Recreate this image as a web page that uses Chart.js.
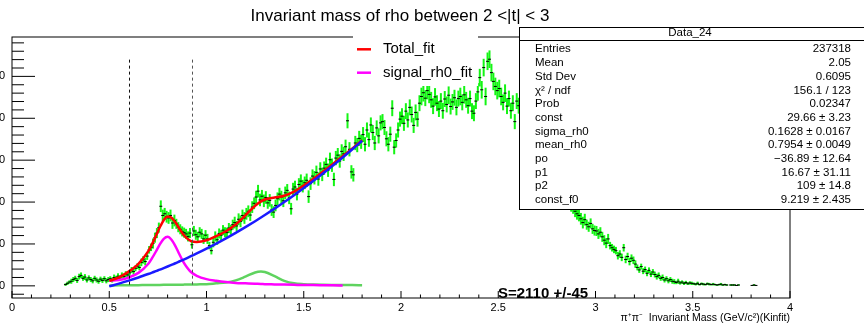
<!DOCTYPE html>
<html>
<head>
<meta charset="utf-8">
<title>Invariant mass of rho between 2 &lt;|t| &lt; 3</title>
<script src="https://cdn.jsdelivr.net/npm/chart.js@4.4.1/dist/chart.umd.min.js"></script>
<style>
  html, body { margin: 0; padding: 0; background: #fff; }
  #wrap { position: relative; width: 864px; height: 327px; overflow: hidden; }
  #chart { position: absolute; left: -40px; top: 0; }
</style>
</head>
<body>
<div id="wrap"><canvas id="chart" width="904" height="327"></canvas></div>
<script>
// pi+pi- mass histogram, 10 MeV bins, first bin centre at 0.275
const firstBin = 0.275
const binWidth = 0.01

const counts = [
  3, 6, 9,
  11, 15, 18, 13, 22, 25, 18, 21, 14, 19,            // 0.3
  15, 12, 18, 14, 11, 16, 13, 17, 12, 15,            // 0.4
  17, 14, 20, 18, 23, 19, 25, 22, 28, 26,            // 0.5
  31, 38, 34, 42, 47, 44, 56, 62, 58, 71,            // 0.6
  86, 92, 101, 115, 126, 139, 190, 168, 172, 165,    // 0.7
  162, 168, 150, 156, 148, 140, 135, 130, 127, 124,  // 0.8
  118, 126, 98, 131, 122, 117, 128, 124, 112, 121,   // 0.9
  112, 96, 84, 104, 118, 110, 125, 121, 133, 128,    // 1.0
  127, 138, 134, 146, 151, 143, 159, 154, 168, 162,  // 1.1
  172, 178, 169, 188, 197, 212, 226, 205, 214, 203,  // 1.2
  211, 198, 204, 181, 176, 192, 208, 219, 212, 203,  // 1.3
  222, 228, 210, 184, 231, 236, 219, 242, 250, 238,  // 1.4
  246, 252, 213, 244, 262, 258, 271, 255, 279, 266,  // 1.5
  281, 290, 276, 301, 288, 254, 305, 312, 298, 321,  // 1.6
  315, 332, 394, 326, 272, 265, 341, 336, 352, 344,  // 1.7
  361, 338, 372, 349, 384, 366, 341, 377, 358, 389,  // 1.8
  392, 378, 351, 338, 362, 424, 331, 347, 372, 398,  // 1.9
  405, 388, 417, 396, 426, 409, 383, 414, 398, 436,  // 2.0
  452, 461, 448, 466, 457, 444, 429, 451, 436, 422,  // 2.1
  441, 418, 446, 433, 455, 428, 439, 449, 426, 447,  // 2.2
  452, 438, 456, 444, 430, 447, 417, 412, 441, 463,  // 2.3
  497, 468, 521, 452, 536, 541, 509, 488, 476, 466,  // 2.4
  471, 452, 438, 460, 429, 447, 418, 436, 392, 441,  // 2.5
  430, 422, 415, 409, 398, 392, 380, 371, 366, 352,  // 2.6
  343, 334, 322, 316, 303, 297, 284, 276, 265, 257,  // 2.7
  248, 239, 231, 222, 216, 205, 198, 191, 186, 178,  // 2.8
  172, 168, 160, 151, 158, 146, 141, 149, 136, 132,  // 2.9
  131, 124, 128, 117, 109, 102, 112, 96, 91, 87,     // 3.0
  84, 72, 76, 68, 91, 63, 70, 58, 66, 61,            // 3.1
  52, 44, 38, 46, 35, 39, 30, 37, 28, 33,            // 3.2
  27, 22, 25, 18, 20, 14, 17, 12, 15, 11,            // 3.3
  10, 8, 11, 7, 9, 6, 8, 5, 7, 6,                    // 3.4
  5, 4, 6, 3, 5, 4, 3, 5, 4, 3,                      // 3.5
  4, 3, 2, 3, 4, 2, 3, 2, null, 2,                   // 3.6
  2, 2, 1, 2, null, null, null, null, null, null,    // 3.7
  1, 2, 1                                            // 3.8
]

const errors = [
  3, 4, 4,
  6, 6, 6, 6, 7, 7, 6, 7, 6, 6,
  6, 6, 6, 6, 6, 6, 6, 6, 6, 6,
  6, 6, 7, 6, 7, 6, 7, 7, 7, 7,
  7, 7, 7, 7, 7, 7, 9, 9, 9, 9,
  9, 9, 12, 12, 12, 12, 14, 14, 14, 14,
  14, 14, 14, 14, 12, 12, 12, 12, 12, 12,
  12, 12, 9, 12, 12, 12, 12, 12, 12, 12,
  12, 9, 9, 12, 12, 12, 12, 12, 12, 12,
  12, 12, 12, 12, 14, 12, 14, 14, 14, 14,
  14, 14, 14, 14, 14, 15, 15, 15, 15, 15,
  15, 14, 15, 14, 14, 14, 15, 15, 15, 15,
  15, 15, 15, 14, 15, 15, 15, 15, 16, 15,
  15, 16, 15, 15, 16, 16, 16, 16, 16, 16,
  16, 16, 16, 17, 16, 16, 17, 17, 16, 17,
  17, 17, 18, 17, 16, 16, 17, 17, 18, 17,
  18, 17, 18, 17, 18, 18, 17, 18, 18, 18,
  18, 18, 18, 17, 18, 19, 17, 17, 18, 18,
  19, 18, 19, 18, 19, 19, 18, 19, 18, 19,
  21, 21, 19, 21, 21, 19, 19, 21, 19, 19,
  19, 19, 19, 19, 21, 19, 19, 19, 19, 19,
  21, 19, 21, 19, 19, 19, 19, 19, 19, 21,
  21, 21, 21, 21, 21, 21, 21, 21, 21, 21,
  21, 21, 19, 21, 19, 19, 19, 19, 18, 19,
  19, 19, 19, 19, 18, 18, 18, 18, 18, 18,
  17, 17, 17, 17, 17, 16, 16, 16, 16, 16,
  15, 15, 15, 15, 15, 15, 14, 14, 14, 14,
  14, 14, 14, 14, 14, 12, 12, 12, 12, 12,
  12, 12, 12, 12, 12, 12, 12, 9, 9, 9,
  9, 9, 9, 9, 9, 9, 9, 9, 9, 9,
  9, 7, 7, 7, 7, 7, 7, 7, 7, 7,
  7, 7, 7, 6, 7, 6, 6, 6, 6, 6,
  6, 4, 6, 4, 4, 4, 4, 3, 4, 4,
  3, 3, 4, 2, 3, 3, 2, 3, 3, 2,
  3, 2, 2, 2, 3, 2, 2, 2, null, 2,
  2, 2, 1, 2, null, null, null, null, null, null,
  1, 2, 1
]

// fit curves sampled over the fit range 0.5 - 1.8
const fitX = [0.50, 0.55, 0.60, 0.65, 0.70, 0.72, 0.74, 0.76, 0.78, 0.80, 0.82, 0.84, 0.86, 0.88, 0.90, 0.92, 0.95,
  1.00, 1.05, 1.10, 1.15, 1.20, 1.25, 1.28, 1.30, 1.35, 1.40, 1.45, 1.50, 1.55, 1.60, 1.65, 1.70, 1.75, 1.80]
const totalFit = [11.8, 20.5, 33.9, 52.7, 82.2, 99.6, 119.4, 140.0, 156.8, 165.7, 162.7, 151.7, 136.9, 123.1, 113.4, 106.9, 104.8,
  108.8, 118.8, 130.3, 146.4, 168.1, 191.3, 201.5, 206.0, 210.8, 215.1, 225.0, 239.4, 255.6, 272.8, 290.8, 309.5, 327.9, 347.8]
const signalFit = [12, 14, 20, 31, 52, 66, 82, 99, 112, 117, 110, 95, 76, 58, 44, 33, 24,
  16, 12, 9, 7, 6, 5, 4.5, 4, 3.5, 3, 2.5, 2, 1.8, 1.5, 1.2, 1, null, null]
const bkgFit = [-1.2, 5.3, 12.4, 20.0, 28.2, 31.6, 35.2, 38.7, 42.4, 46.2, 50.1, 54.0, 58.1, 62.2, 66.4, 70.7, 77.3,
  88.8, 100.8, 113.3, 126.4, 140.1, 154.3, 163.0, 169.0, 184.3, 200.1, 216.5, 233.4, 250.8, 268.8, 287.4, 306.5, 326.1, 346.3]
const f0Fit = [1, 1.2, 1.5, 1.7, 2, 2, 2.2, 2.3, 2.4, 2.5, 2.6, 2.7, 2.8, 2.9, 3, 3.2, 3.5,
  4, 6, 8, 13, 22, 32, 34, 33, 23, 12, 6, 4, 3, 2.5, 2.2, 2, 1.8, 1.5]

const xTicks = [0, 0.5, 1, 1.5, 2, 2.5, 3, 3.5, 4]
const yTicks = [0, 100, 200, 300, 400, 500]
const xMinorStep = 0.1
const yMinorStep = 20

// rho mass window
const cutLines = [0.6, 0.923]
const cutTop = 540

const legendItems = [['Total_fit', '#ff0000'], ['signal_rh0_fit', '#ff00ff']]
const statsRows = [
  ['Entries', '237318'],
  ['Mean', '2.05'],
  ['Std Dev', '0.6095'],
  ['\u03c7\u00b2 / ndf', '156.1 / 123'],
  ['Prob', '0.02347'],
  ['const', '29.66 \u00b1 3.23'],
  ['sigma_rh0', '0.1628 \u00b1 0.0167'],
  ['mean_rh0', '0.7954 \u00b1 0.0049'],
  ['po', '\u221236.89 \u00b1 12.64'],
  ['p1', '16.67 \u00b1 31.11'],
  ['p2', '109 \u00b1 14.8'],
  ['const_f0', '9.219 \u00b1 2.435']
]

const SHIFT = 40  // canvas hangs off the left edge, y labels get cut like in the pad
const FONT = 'Liberation Sans, Arial, Helvetica, sans-serif'

const ctx = document.getElementById('chart').getContext('2d')

const errorBars = {
  id: 'errorBars',
  beforeDatasetsDraw(chart) {
    const c = chart.ctx, a = chart.chartArea, xs = chart.scales.x, ys = chart.scales.y
    c.save()
    c.beginPath()
    c.rect(a.left, a.top, a.right - a.left, a.bottom - a.top)
    c.clip()
    c.strokeStyle = '#14f514'
    c.lineWidth = 2
    counts.forEach((n, i) => {
      if (n === null) return
      const px = xs.getPixelForValue(firstBin + i * binWidth)
      c.beginPath()
      c.moveTo(px, ys.getPixelForValue(n - errors[i]))
      c.lineTo(px, ys.getPixelForValue(n + errors[i]))
      c.stroke()
    })
    c.restore()
  }
}

const decorations = {
  id: 'decorations',
  afterDatasetsDraw(chart) {
    const c = chart.ctx, a = chart.chartArea, xs = chart.scales.x, ys = chart.scales.y
    c.save()

    // dashed lines for the mass window
    c.lineWidth = 1
    c.setLineDash([3, 3])
    cutLines.forEach((v, i) => {
      const px = Math.round(xs.getPixelForValue(v)) + 0.5
      c.strokeStyle = i === 0 ? '#111' : '#555'
      c.beginPath()
      c.moveTo(px, ys.getPixelForValue(cutTop))
      c.lineTo(px, ys.getPixelForValue(0))
      c.stroke()
    })
    c.setLineDash([])

    // frame
    c.strokeStyle = '#000'
    c.strokeRect(a.left, a.top, a.right - a.left, a.bottom - a.top)

    // ROOT style ticks, drawn inside the frame
    const nx = Math.round((xs.max - xs.min) / xMinorStep)
    for (let k = 0; k <= nx; k++) {
      const v = xs.min + k * xMinorStep
      const major = xTicks.some(t => Math.abs(t - v) < 1e-6)
      const px = xs.getPixelForValue(v)
      c.beginPath()
      c.moveTo(px, a.bottom)
      c.lineTo(px, a.bottom - (major ? 7 : 3.5))
      c.stroke()
    }
    for (let k = Math.ceil(ys.min / yMinorStep); k * yMinorStep <= ys.max; k++) {
      const v = k * yMinorStep
      const major = yTicks.includes(v)
      const py = ys.getPixelForValue(v)
      c.beginPath()
      c.moveTo(a.left, py)
      c.lineTo(a.left + (major ? 23 : 12), py)
      c.stroke()
    }
    c.restore()
  },
  afterDraw(chart) {
    const c = chart.ctx
    c.save()
    c.translate(SHIFT, 0)
    c.fillStyle = '#000'
    c.textBaseline = 'alphabetic'

    // title
    c.font = '17px ' + FONT
    c.textAlign = 'center'
    c.fillText('Invariant mass of rho between 2 <|t| < 3', 400, 21)

    // axis title
    c.font = '10.5px ' + FONT
    c.textAlign = 'right'
    c.fillText('\u03c0\u207a\u03c0\u207b  Invariant Mass (GeV/c\u00b2)(Kinfit)', 790, 320.5)

    // signal yield
    c.font = 'bold 15px ' + FONT
    c.textAlign = 'left'
    c.fillText('S=2110 +/-45', 498, 298)

    // legend
    c.fillStyle = '#fff'
    c.fillRect(353, 30, 125, 56)
    c.font = '15px ' + FONT
    legendItems.forEach(([label, color], i) => {
      const ly = 49.3 + i * 23.4
      c.strokeStyle = color
      c.lineWidth = 2.5
      c.beginPath()
      c.moveTo(357, ly)
      c.lineTo(371, ly)
      c.stroke()
      c.fillStyle = '#000'
      c.fillText(label, 383, ly + 4)
    })

    // stats box
    const bx = 519.5, by = 27.5, bw = 360, bh = 182
    c.fillStyle = '#fff'
    c.fillRect(bx, by, bw, bh)
    c.strokeStyle = '#000'
    c.lineWidth = 1
    c.strokeRect(bx, by, bw, bh)
    c.beginPath()
    c.moveTo(bx, 40.5)
    c.lineTo(bx + bw, 40.5)
    c.stroke()
    c.fillStyle = '#000'
    c.font = '11.5px ' + FONT
    c.textAlign = 'center'
    c.fillText('Data_24', 690, 36.4)
    statsRows.forEach(([name, val], i) => {
      const ty = 52.4 + i * 13.7
      c.textAlign = 'left'
      c.fillText(name, 535, ty)
      c.textAlign = 'right'
      c.fillText(val, 851, ty)
    })
    c.restore()
  }
}

const curve = (ys, color, order) => ({
  data: fitX.map((v, i) => ({ x: v, y: ys[i] })),
  showLine: true,
  borderColor: color,
  borderWidth: 2.5,
  pointRadius: 0,
  fill: false,
  spanGaps: false,
  cubicInterpolationMode: 'monotone',
  order: order
})

const config = {
  type: 'scatter',
  data: {
    datasets: [
      {
        label: 'Data_24',
        data: counts.map((n, i) => ({ x: firstBin + i * binWidth, y: n })),
        pointStyle: 'line',
        pointRadius: 1.5,
        borderColor: '#000',
        backgroundColor: '#000',
        borderWidth: 1,
        order: 5
      },
      curve(f0Fit, '#5fd35f', 4),
      curve(signalFit, '#ff00ff', 3),
      curve(totalFit, '#ff0000', 2),
      curve(bkgFit, '#1a1aff', 1)
    ]
  },
  options: {
    responsive: false,
    animation: false,
    devicePixelRatio: 1,
    layout: { padding: { left: 0, right: 74, top: 37, bottom: 0 } },
    plugins: {
      legend: { display: false },
      tooltip: { enabled: false },
      title: { display: false }
    },
    scales: {
      x: {
        type: 'linear',
        min: 0,
        max: 4,
        afterFit: s => { s.height = 29 },
        afterBuildTicks: s => { s.ticks = xTicks.map(v => ({ value: v })) },
        grid: { display: false, drawTicks: false },
        border: { display: false },
        ticks: {
          padding: 3,
          maxRotation: 0,
          autoSkip: false,
          color: '#000',
          font: { family: FONT, size: 11 },
          callback: v => String(v)
        }
      },
      y: {
        type: 'linear',
        min: -29,
        max: 594,
        afterFit: s => { s.width = 52 },
        afterBuildTicks: s => { s.ticks = yTicks.map(v => ({ value: v })) },
        grid: { display: false, drawTicks: false },
        border: { display: false },
        ticks: {
          padding: 7,
          color: '#000',
          font: { family: FONT, size: 11 },
          callback: v => String(v)
        }
      }
    }
  },
  plugins: [errorBars, decorations]
}

const myChart = new Chart(ctx, config)
</script>
</body>
</html>
